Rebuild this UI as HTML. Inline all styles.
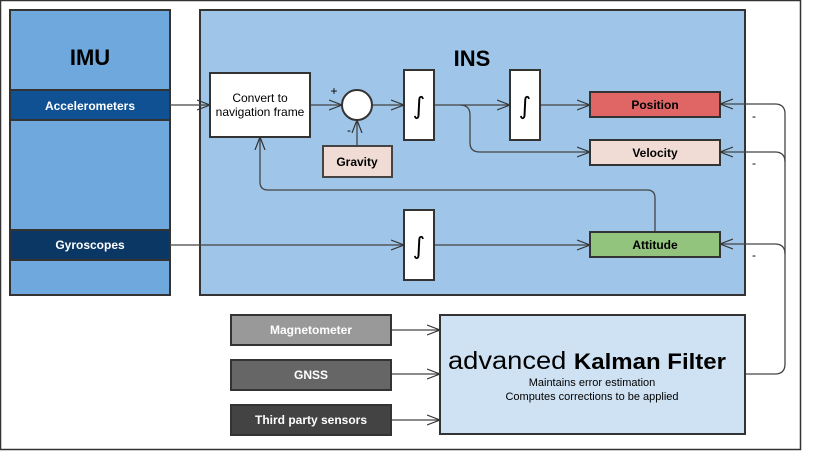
<!DOCTYPE html>
<html><head><style>body{margin:0;background:#fff}svg{display:block}</style></head><body>
<svg width="820" height="470" viewBox="0 0 820 470" xmlns="http://www.w3.org/2000/svg" font-family="Liberation Sans, sans-serif">
<defs><marker id="a" markerWidth="14" markerHeight="12" refX="13" refY="6" orient="auto" markerUnits="userSpaceOnUse"><path d="M0,1 L13,6 L0,11" fill="none" stroke="#333" stroke-width="1.2"/></marker></defs>
<rect x="0.5" y="0.5" width="800" height="449" fill="#fff" stroke="#333" stroke-width="1.5"/>
<rect x="10" y="10" width="160" height="285" fill="#6fa8dc" stroke="#333" stroke-width="2"/>
<text x="90" y="65" text-anchor="middle" font-size="22" font-weight="bold">IMU</text>
<rect x="10" y="90" width="160" height="30" fill="#0f5193" stroke="#333" stroke-width="2"/>
<text x="90" y="110" text-anchor="middle" font-size="12" font-weight="bold" fill="#fff">Accelerometers</text>
<rect x="10" y="230" width="160" height="30" fill="#0a3764" stroke="#333" stroke-width="2"/>
<text x="90" y="249" text-anchor="middle" font-size="12" font-weight="bold" fill="#fff">Gyroscopes</text>
<rect x="200" y="10" width="545" height="285" fill="#9fc5e8" stroke="#333" stroke-width="2"/>
<text x="472" y="66" text-anchor="middle" font-size="22" font-weight="bold">INS</text>
<g stroke="#444" stroke-width="1.3" fill="none">
<path d="M170,105 H210" marker-end="url(#a)"/>
<path d="M310,105 H342" marker-end="url(#a)"/>
<path d="M357,146 V120" marker-end="url(#a)"/>
<path d="M372,105 H404" marker-end="url(#a)"/>
<path d="M434,105 H510" marker-end="url(#a)"/>
<path d="M540,105 H590" marker-end="url(#a)"/>
<path d="M460,105 Q470,105 470,115 V143 Q470,152 480,152 H590" marker-end="url(#a)"/>
<path d="M170,245 H404" marker-end="url(#a)"/>
<path d="M434,245 H590" marker-end="url(#a)"/>
<path d="M655,232 V198 Q655,190 647,190 H268 Q260,190 260,182 V137" marker-end="url(#a)"/>
<path d="M391,330 H440" marker-end="url(#a)"/>
<path d="M391,374 H440" marker-end="url(#a)"/>
<path d="M391,420 H440" marker-end="url(#a)"/>
<path d="M745,374 H775 Q785,374 785,364 V114 Q785,104 775,104 H720" marker-end="url(#a)"/>
<path d="M785,162 Q785,152 775,152 H720" marker-end="url(#a)"/>
<path d="M785,254 Q785,244 775,244 H720" marker-end="url(#a)"/>
</g>
<rect x="210" y="73" width="100" height="64" fill="#fff" stroke="#333" stroke-width="2"/>
<text x="260" y="102" text-anchor="middle" font-size="12">Convert to</text>
<text x="260" y="116" text-anchor="middle" font-size="12">navigation frame</text>
<circle cx="357" cy="105" r="15" fill="#fff" stroke="#333" stroke-width="2"/>
<text x="334" y="95" text-anchor="middle" font-size="12">+</text>
<text x="349" y="134" text-anchor="middle" font-size="12">-</text>
<rect x="323" y="146" width="69" height="31" fill="#f0dcd5" stroke="#444" stroke-width="2"/>
<text x="357" y="166" text-anchor="middle" font-size="12" font-weight="bold">Gravity</text>
<g fill="#fff" stroke="#333" stroke-width="2">
<rect x="404" y="70" width="30" height="70"/><rect x="510" y="70" width="30" height="70"/><rect x="404" y="210" width="30" height="70"/>
</g>
<g font-size="24" text-anchor="middle" font-family="DejaVu Sans, sans-serif"><text x="419" y="114">∫</text><text x="525" y="114">∫</text><text x="419" y="254">∫</text></g>
<rect x="590" y="92" width="130" height="25" fill="#e06666" stroke="#333" stroke-width="2"/>
<text x="655" y="109" text-anchor="middle" font-size="12" font-weight="bold">Position</text>
<rect x="590" y="140" width="130" height="25" fill="#f0dcd5" stroke="#333" stroke-width="2"/>
<text x="655" y="157" text-anchor="middle" font-size="12" font-weight="bold">Velocity</text>
<rect x="590" y="232" width="130" height="25" fill="#93c47d" stroke="#333" stroke-width="2"/>
<text x="655" y="249" text-anchor="middle" font-size="12" font-weight="bold">Attitude</text>
<g font-size="12"><text x="752" y="120">-</text><text x="752" y="167">-</text><text x="752" y="259">-</text></g>
<rect x="440" y="315" width="305" height="119" fill="#cfe2f3" stroke="#333" stroke-width="2"/>
<text x="448" y="369" font-size="25" textLength="278" lengthAdjust="spacingAndGlyphs">advanced <tspan font-weight="bold" font-size="22">Kalman Filter</tspan></text>
<text x="592" y="386" text-anchor="middle" font-size="11">Maintains error estimation</text>
<text x="592" y="400" text-anchor="middle" font-size="11">Computes corrections to be applied</text>
<rect x="231" y="315" width="160" height="30" fill="#999" stroke="#333" stroke-width="2"/>
<text x="311" y="334" text-anchor="middle" font-size="12" font-weight="bold" fill="#fff">Magnetometer</text>
<rect x="231" y="360" width="160" height="30" fill="#666" stroke="#333" stroke-width="2"/>
<text x="311" y="379" text-anchor="middle" font-size="12" font-weight="bold" fill="#fff">GNSS</text>
<rect x="231" y="405" width="160" height="30" fill="#434343" stroke="#333" stroke-width="2"/>
<text x="311" y="424" text-anchor="middle" font-size="12" font-weight="bold" fill="#fff">Third party sensors</text>
</svg>
</body></html>
